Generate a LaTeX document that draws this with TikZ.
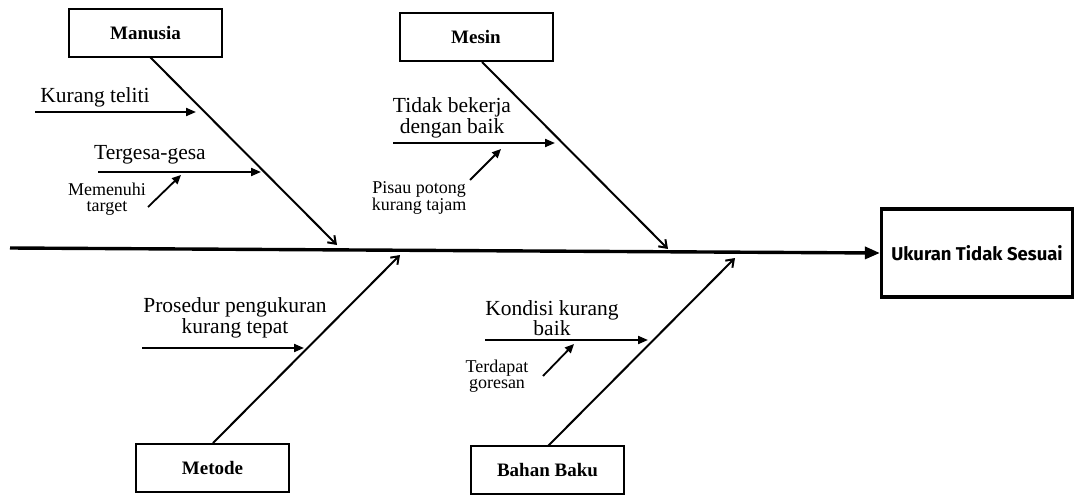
\documentclass[tikz,border=0pt]{standalone}
\usepackage{fontspec}
\setmainfont{Liberation Serif}
\newfontfamily\ukfont{Fira Sans}
\usetikzlibrary{arrows.meta}
\tikzset{
  catbox/.style={draw, line width=2pt, minimum width=153pt, minimum height=48pt, font=\fontsize{19}{22}\selectfont\bfseries, inner sep=0pt},
  bone/.style={line width=2pt, -{Straight Barb[length=7pt, width=10pt, line width=2pt]}},
  cause/.style={line width=2pt, -{Triangle[length=10pt, width=8pt]}},
  subcause/.style={line width=1.8pt, -{Triangle[length=9pt, width=8pt]}},
  lbl/.style={font=\fontsize{21.5}{19}\selectfont, align=center, inner sep=0pt},
  slbl/.style={font=\fontsize{18}{16}\selectfont, align=center, inner sep=0pt},
}
\begin{document}
\begin{tikzpicture}[x=1pt, y=-1pt]
\useasboundingbox (0,0) rectangle (1078,495);
% effect box
\node[draw, line width=3.2pt, minimum width=191pt, minimum height=88pt, inner sep=0pt, font=\ukfont\bfseries\fontsize{18.5}{20}\selectfont] (eff) at (977,253) {Ukuran Tidak Sesuai};
% spine
\coordinate (s0) at (10,248);
\draw[line width=3.4pt, -{Triangle[length=15pt, width=12pt]}] (s0) -- (eff.west);
% category boxes
\node[catbox] (man) at (145.5,33) {Manusia};
\node[catbox] (mes) at (476,37.5) {Mesin};
\node[catbox] (met) at (212.5,467.5) {Metode};
\node[catbox] (bah) at (547.5,470) {Bahan Baku};
% bone end points
\coordinate (manS) at (150,57);
\coordinate (manE) at (337,245);
\coordinate (mesS) at (482,62);
\coordinate (mesE) at (668,249);
\coordinate (metS) at (213,443);
\coordinate (metE) at (400,255);
\coordinate (bahS) at (548,446);
\coordinate (bahE) at (735,258);
\draw[bone] (manS) -- (manE);
\draw[bone] (mesS) -- (mesE);
\draw[bone] (metS) -- (metE);
\draw[bone] (bahS) -- (bahE);
% Manusia causes
\node[lbl] (kt) at (95,97) {Kurang teliti};
\coordinate (kt0) at (35,112); \coordinate (kt1) at (196,112);
\draw[cause] (kt0) -- (kt1);
\node[lbl] (tg) at (150,155) {Tergesa-gesa};
\coordinate (tg0) at (98,172); \coordinate (tg1) at (261,172);
\draw[cause] (tg0) -- (tg1);
\node[slbl] (mt) at (107,199) {Memenuhi\\target};
\coordinate (mt0) at (148,207); \coordinate (mt1) at (181,175);
\draw[subcause] (mt0) -- (mt1);
% Mesin causes
\node[lbl] (tb) at (452,118) {Tidak bekerja\\dengan baik};
\coordinate (tb0) at (393,143); \coordinate (tb1) at (555,143);
\draw[cause] (tb0) -- (tb1);
\node[slbl] (pp) at (419,198) {Pisau potong\\kurang tajam};
\coordinate (pp0) at (470,180); \coordinate (pp1) at (501,149);
\draw[subcause] (pp0) -- (pp1);
% Metode causes
\node[lbl] (pk) at (235,318) {Prosedur pengukuran\\kurang tepat};
\coordinate (pk0) at (142,348); \coordinate (pk1) at (304,348);
\draw[cause] (pk0) -- (pk1);
% Bahan Baku causes
\node[lbl] (kk) at (552,318) {Kondisi kurang\\baik};
\coordinate (kk0) at (485,340); \coordinate (kk1) at (648,340);
\draw[cause] (kk0) -- (kk1);
\node[slbl] (tdg) at (497,376) {Terdapat\\goresan};
\coordinate (tdg0) at (543,376); \coordinate (tdg1) at (574,344);
\draw[subcause] (tdg0) -- (tdg1);
\end{tikzpicture}
\end{document}
